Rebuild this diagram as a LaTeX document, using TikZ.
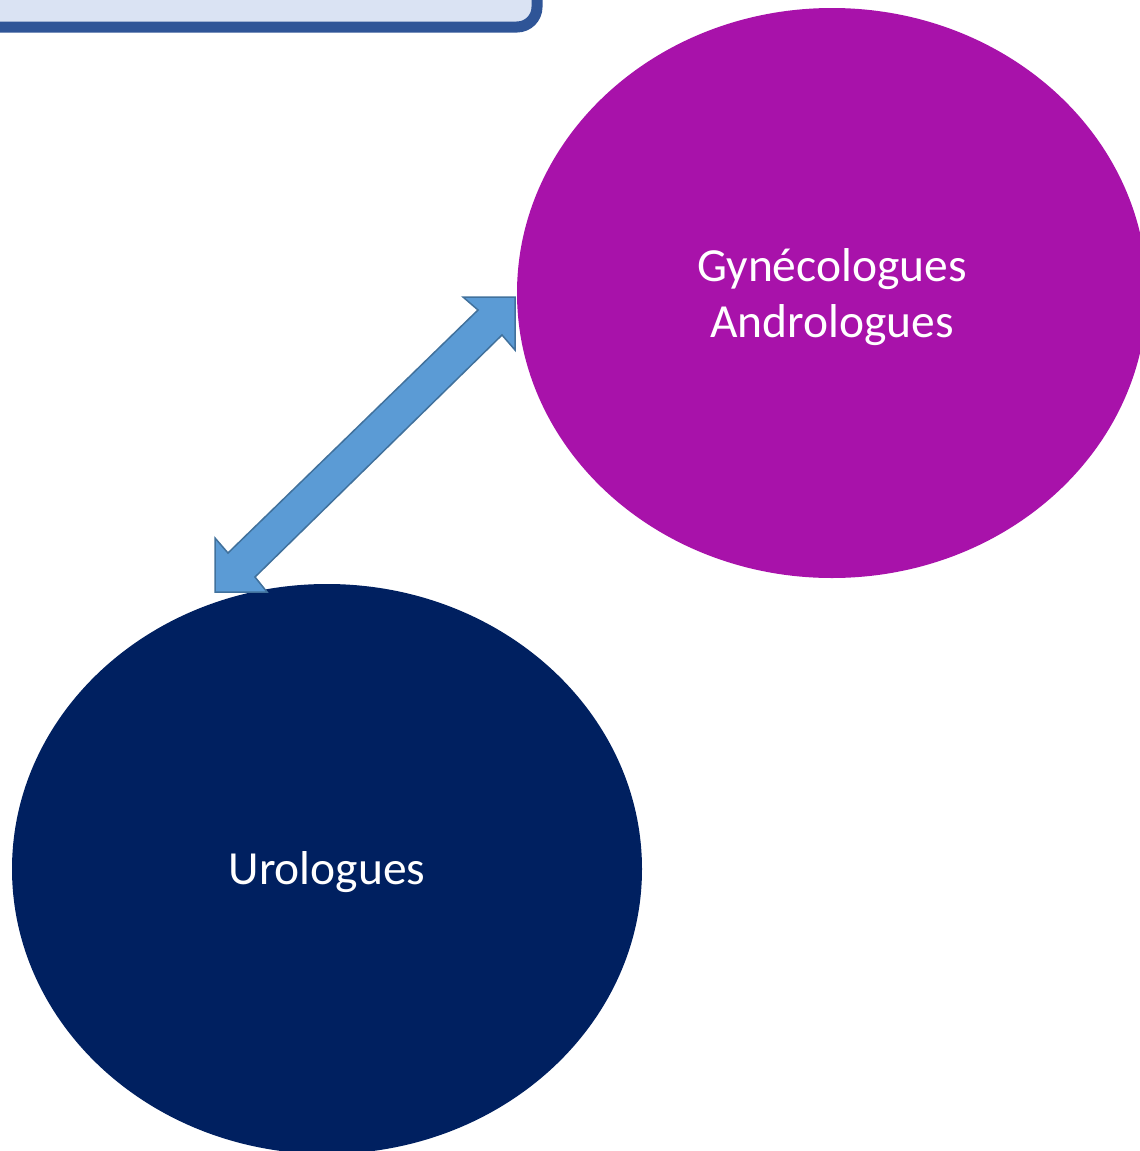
\documentclass[tikz,border=0pt]{standalone}
\usepackage{fontspec}
\setmainfont{Carlito}
\usetikzlibrary{shapes.geometric}
\definecolor{boxfill}{HTML}{DAE3F3}
\definecolor{boxline}{HTML}{2F5597}
\definecolor{purp}{HTML}{A812AA}
\definecolor{navy}{HTML}{002060}
\definecolor{arrfill}{HTML}{5B9BD5}
\definecolor{arrline}{HTML}{41719C}
\begin{document}
\begin{tikzpicture}[x=1pt,y=-1pt,
  bubble/.style={ellipse, minimum width=630pt, minimum height=570pt, inner sep=0pt,
    draw=none},
  label/.style={text=white, align=center, font=\fontsize{47.5}{56}\selectfont, inner sep=0pt},
  blockarrow/.style={fill=arrfill, draw=arrline, line width=1.5pt, line join=miter}]
\useasboundingbox (0,0) rectangle (1140,1151);
\draw[fill=boxfill, draw=boxline, line width=11pt, rounded corners=20pt] (-30,-60) rectangle (537,27);
\node[bubble, fill=purp] (gyn) at (832,293) {};
\node[label] (gyntext) at (832,297) {Gynécologues\\Andrologues};
\node[bubble, fill=navy] (uro) at (327,869) {};
\node[label] (urotext) at (327,872) {Urologues};
\coordinate (tipA) at (515,297);
\coordinate (tipB) at (215,592);
\draw[blockarrow] (tipA) -- (515,350) -- (502,335) -- (255,577) -- (267,592) -- (tipB)
  -- (215,538) -- (228,553) -- (478,310) -- (463,297) -- cycle;
\end{tikzpicture}
\end{document}
